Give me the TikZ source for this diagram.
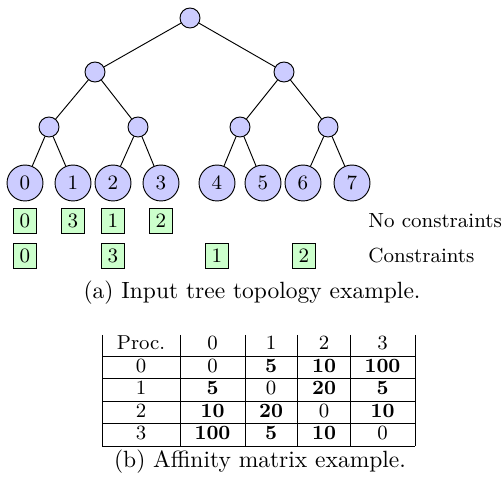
\documentclass[tikz,border=0pt]{standalone}
\begin{document}
\begin{tikzpicture}[x=0.4255pt,y=-0.4255pt,
  treefont/.style={font=\fontsize{8.7pt}{10pt}\selectfont},
  inner/.style={circle,draw,fill=blue!20,minimum size=8.5pt,inner sep=0pt},
  leaf/.style={circle,draw,fill=blue!20,minimum size=15.3pt,inner sep=0pt,treefont},
  proc/.style={rectangle,draw,fill=green!20,minimum width=9.8pt,minimum height=11pt,inner sep=0pt,treefont},
  lbl/.style={anchor=west,inner sep=0pt,treefont},
  cell/.style={anchor=base,inner sep=0pt,font=\fontsize{8.6pt}{10pt}\selectfont}]
\useasboundingbox (0,0) rectangle (503,483);
% tree
\node[inner] (r) at (190,18) {};
\node[inner] (a) at (95,72) {};
\node[inner] (b) at (284,72) {};
\node[inner] (a1) at (49,127) {};
\node[inner] (a2) at (138,127) {};
\node[inner] (b1) at (240,127) {};
\node[inner] (b2) at (328,127) {};
\node[leaf] (l0) at (25,183) {0};
\node[leaf] (l1) at (73,183) {1};
\node[leaf] (l2) at (113,183) {2};
\node[leaf] (l3) at (161,183) {3};
\node[leaf] (l4) at (217,183) {4};
\node[leaf] (l5) at (263,183) {5};
\node[leaf] (l6) at (303,183) {6};
\node[leaf] (l7) at (352,183) {7};
\draw (r) -- (a); \draw (r) -- (b);
\draw (a) -- (a1); \draw (a) -- (a2);
\draw (b) -- (b1); \draw (b) -- (b2);
\draw (a1) -- (l0); \draw (a1) -- (l1);
\draw (a2) -- (l2); \draw (a2) -- (l3);
\draw (b1) -- (l4); \draw (b1) -- (l5);
\draw (b2) -- (l6); \draw (b2) -- (l7);
% mappings
\node[proc] (n0) at (25,221) {0};
\node[proc] (n1) at (73,221) {3};
\node[proc] (n2) at (113,221) {1};
\node[proc] (n3) at (161,221) {2};
\node[proc] (c0) at (25,256) {0};
\node[proc] (c1) at (113,256) {3};
\node[proc] (c2) at (217,256) {1};
\node[proc] (c3) at (304,256) {2};
\node[lbl] (tn) at (368,221) {No constraints};
\node[lbl] (tc) at (368,256) {Constraints};
\node (capa) at (252,293) {(a) Input tree topology example.};
% table grid
\foreach \x in {102,180,245,297.5,350,415} \draw (\x,335) -- (\x,446);
\foreach \y in {356,378.5,401,423.5,446} \draw (102,\y) -- (415,\y);
% table text
\foreach \t [count=\i from 0] in {Proc.,0,1,2,3}
  { \pgfmathsetmacro\cx{{141,212.5,271,324,382.5}[\i]}
    \node[cell] (h\i) at (\cx,349.5) {\t}; }
\foreach \row/\yy in {{0,0,\textbf{5},\textbf{10},\textbf{100}}/372,
                      {1,\textbf{5},0,\textbf{20},\textbf{5}}/394.5,
                      {2,\textbf{10},\textbf{20},0,\textbf{10}}/417,
                      {3,\textbf{100},\textbf{5},\textbf{10},0}/439.5}
  { \foreach \t [count=\i from 0] in \row
    { \pgfmathsetmacro\cx{{141,212.5,271,324,382.5}[\i]}
      \node[cell] at (\cx,\yy) {\t}; } }
\node (capb) at (260,462) {(b) Affinity matrix example.};
\end{tikzpicture}
\end{document}
